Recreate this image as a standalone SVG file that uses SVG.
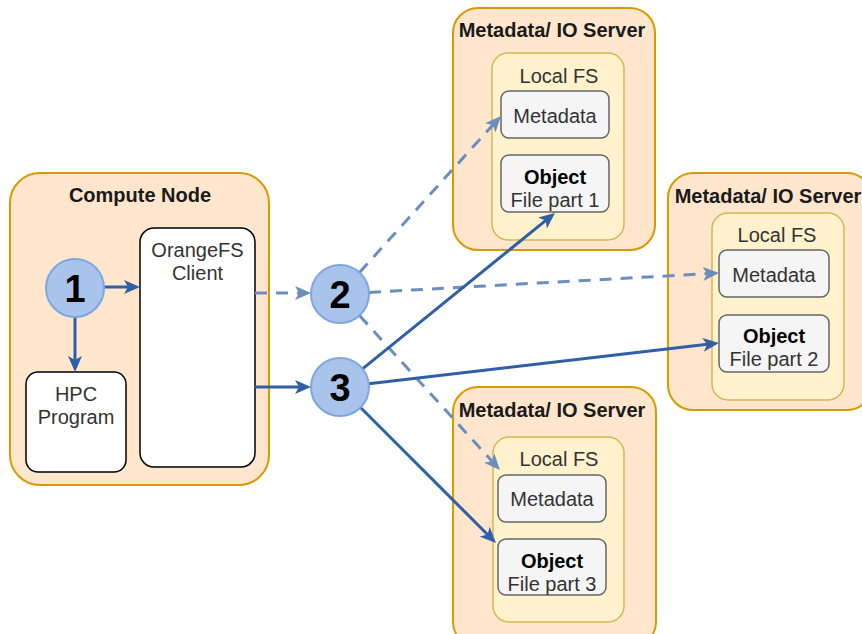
<svg xmlns="http://www.w3.org/2000/svg" width="862" height="634" viewBox="0 0 862 634">
<defs>
<style>
.outer{fill:#ffe6cc;stroke:#d79b00;stroke-width:2}
.fs{fill:#fff2cc;stroke:#d6b656;stroke-width:1.5}
.md{fill:#f5f5f5;stroke:#666666;stroke-width:1.5}
.wb{fill:#ffffff;stroke:#000000;stroke-width:1.5}
.circ{fill:#a9c4eb;stroke:#7ea6e0;stroke-width:2}
text{font-family:"Liberation Sans",Arial,sans-serif;font-size:20px;text-anchor:middle}
.title{font-weight:bold;fill:#1a1a1a}
.g{fill:#333333}
.b{font-weight:bold;fill:#000000}
.num{font-weight:bold;font-size:38px;fill:#000000}
.solid{fill:none;stroke:#2f5fa7;stroke-width:3}
.dash{fill:none;stroke:#6c8ebf;stroke-width:3;stroke-dasharray:12 9}
</style>
<marker id="as" markerUnits="userSpaceOnUse" markerWidth="16" markerHeight="14" viewBox="0 0 16 14" refX="11" refY="7" orient="auto">
<path d="M0,0 L16,7 L0,14 L4,7 z" fill="#2f5fa7"/>
</marker>
<marker id="ad" markerUnits="userSpaceOnUse" markerWidth="16" markerHeight="14" viewBox="0 0 16 14" refX="11" refY="7" orient="auto">
<path d="M0,0 L16,7 L0,14 L4,7 z" fill="#6c8ebf"/>
</marker>
</defs>

<g id="compute-node">
<rect class="outer" x="10" y="173" width="259" height="312" rx="30"/>
<text class="title" x="140" y="202">Compute Node</text>
</g>
<g id="orangefs-client">
<rect class="wb" x="140" y="228" width="115" height="239" rx="14"/>
<text class="g" x="197.5" y="257">OrangeFS</text>
<text class="g" x="197.5" y="280">Client</text>
</g>
<g id="hpc-program">
<rect class="wb" x="26" y="372" width="100" height="100" rx="12"/>
<text class="g" x="76" y="401">HPC</text>
<text class="g" x="76" y="424">Program</text>
</g>

<g id="server1">
<rect class="outer" x="453" y="8" width="202" height="242" rx="25"/>
<text class="title" x="552" y="37">Metadata/ IO Server</text>
<rect class="fs" x="492" y="53" width="132" height="187" rx="16"/>
<text class="g" x="559" y="83">Local FS</text>
</g>
<g id="server1-metadata">
<rect class="md" x="501" y="91" width="108" height="47" rx="8"/>
<text class="g" x="555" y="123">Metadata</text>
</g>
<g id="server1-object">
<rect class="md" x="501" y="155" width="108" height="57" rx="8"/>
<text class="b" x="555" y="184">Object</text>
<text class="g" x="555" y="207">File part 1</text>
</g>

<g id="server2">
<rect class="outer" x="668" y="173" width="204" height="237" rx="25"/>
<text class="title" x="768" y="203">Metadata/ IO Server</text>
<rect class="fs" x="712" y="213" width="132" height="187" rx="16"/>
<text class="g" x="777" y="242">Local FS</text>
</g>
<g id="server2-metadata">
<rect class="md" x="719" y="250" width="110" height="47" rx="8"/>
<text class="g" x="774" y="282">Metadata</text>
</g>
<g id="server2-object">
<rect class="md" x="719" y="315" width="110" height="57" rx="8"/>
<text class="b" x="774" y="343">Object</text>
<text class="g" x="774" y="366">File part 2</text>
</g>

<g id="server3">
<rect class="outer" x="453" y="387" width="203" height="260" rx="25"/>
<text class="title" x="552" y="417">Metadata/ IO Server</text>
<rect class="fs" x="493" y="437" width="131" height="185" rx="16"/>
<text class="g" x="559" y="466">Local FS</text>
</g>
<g id="server3-metadata">
<rect class="md" x="498" y="475" width="108" height="47" rx="8"/>
<text class="g" x="552" y="506">Metadata</text>
</g>
<g id="server3-object">
<rect class="md" x="498" y="539" width="108" height="56" rx="8"/>
<text class="b" x="552" y="568">Object</text>
<text class="g" x="552" y="591">File part 3</text>
</g>

<g id="connectors">
<path class="solid" d="M104,287 L135,287" marker-end="url(#as)"/>
<path class="solid" d="M75,317 L75,367" marker-end="url(#as)"/>
<path class="dash" d="M255,293 L306,293" marker-end="url(#ad)"/>
<path class="solid" d="M255,387 L306,387" marker-end="url(#as)"/>
<path class="dash" d="M359.5,272.5 L497.6,119.7" marker-end="url(#ad)"/>
<path class="dash" d="M369,292.4 L714,273.3" marker-end="url(#ad)"/>
<path class="dash" d="M359.5,315.5 L496.6,466.3" marker-end="url(#ad)"/>
<path class="solid" d="M362.5,368.8 L551.1,216.1" marker-end="url(#as)"/>
<path class="solid" d="M368.8,383.7 L714,343.6" marker-end="url(#as)"/>
<path class="solid" d="M360.5,407.5 L492.5,539.5" marker-end="url(#as)"/>
</g>

<g id="step1">
<circle class="circ" cx="75" cy="288" r="29"/>
<text class="num" x="75" y="302">1</text>
</g>
<g id="step2">
<circle class="circ" cx="340" cy="294" r="29"/>
<text class="num" x="340" y="308">2</text>
</g>
<g id="step3">
<circle class="circ" cx="340" cy="387" r="29"/>
<text class="num" x="340" y="401">3</text>
</g>
</svg>
